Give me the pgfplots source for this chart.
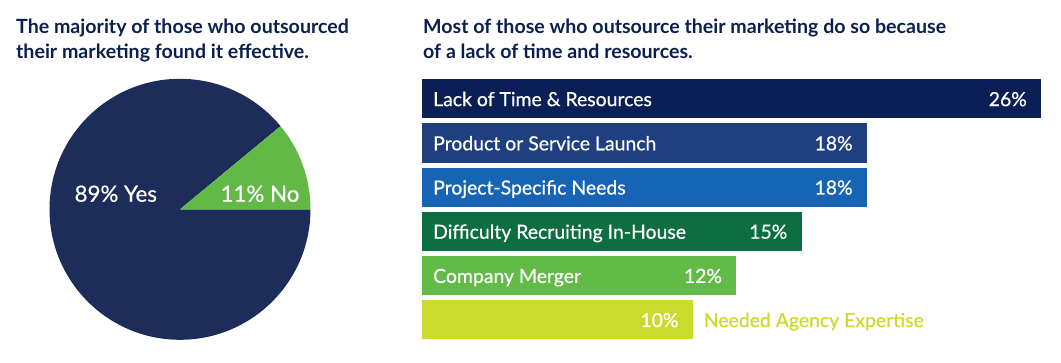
\documentclass[border=0pt]{standalone}
\usepackage{pgfplots}
\pgfplotsset{compat=1.18}
\usepackage{pgfplotstable}
\usepackage{fontspec}
\setmainfont{Lato}
\newfontface\medfont{Lato}[FakeBold=0.6]
\definecolor{navy}{HTML}{1D2D5A}
\definecolor{titlec}{HTML}{0B1F4F}
\definecolor{pgreen}{HTML}{62B946}
\definecolor{b1}{HTML}{0A1F56}
\definecolor{b2}{HTML}{1F3F7E}
\definecolor{b3}{HTML}{1565B4}
\definecolor{b4}{HTML}{0D6E42}
\definecolor{b5}{HTML}{62BB47}
\definecolor{b6}{HTML}{CADC2B}
\newcommand\titlefont{\fontsize{19.6}{23}\selectfont\bfseries}
\newcommand\barfont{\medfont\fontsize{19.4}{22}\selectfont}
\newcommand\piefont{\medfont\fontsize{22.3}{26}\selectfont}

% pos: 5 = top bar
\pgfplotstableread{
pos pct
5 26
4 18
3 18
2 15
1 12
0 10
}\reasons

\pgfplotstableread{
label pct
Yes 89
No 11
}\effective

\begin{document}
\begin{tikzpicture}
\path (0pt,0pt) rectangle (1061pt,363pt);
% titles
\node[anchor=base west, inner sep=0, font=\titlefont, text=titlec] at (16pt,329.2pt) {The majority of those who outsourced};
\node[anchor=base west, inner sep=0, font=\titlefont, text=titlec] at (16pt,304.7pt) {their marketing found it effective.};
\node[anchor=base west, inner sep=0, font=\titlefont, text=titlec] at (423pt,329.2pt) {Most of those who outsource their marketing do so because};
\node[anchor=base west, inner sep=0, font=\titlefont, text=titlec] at (423pt,304.7pt) {of a lack of time and resources.};

% pie
\pgfplotstablegetelem{1}{pct}\of\effective
\pgfmathsetmacro\noang{\pgfplotsretval/100*360}
\begin{axis}[at={(49.5pt,23.2pt)}, anchor=south west, width=261pt, height=261pt,
  scale only axis, xmin=-1, xmax=1, ymin=-1, ymax=1, hide axis, clip=false]
\addplot[draw=none, forget plot] coordinates {(0,0)};
\fill[navy] (axis cs:0,0) -- (axis cs:1,0) arc[start angle=0, end angle={\noang-360}, radius=130.5pt] -- cycle;
\fill[pgreen] (axis cs:0,0) -- (axis cs:1,0) arc[start angle=0, end angle=\noang, radius=130.5pt] -- cycle;
\node[anchor=base, inner sep=0, text=white, font=\piefont] at (axis cs:-0.492,0.058) {89\% Yes};
\node[anchor=base, inner sep=0, text=white, font=\piefont] at (axis cs:0.613,0.058) {11\% No};
\end{axis}

% bars
\begin{axis}[at={(422pt,21.1pt)}, anchor=south west, width=619pt, height=265.2pt,
  scale only axis, xmin=0, xmax=28.43, ymin=-0.5, ymax=5.5,
  hide axis, clip=false, xbar, bar width=39.3pt, bar shift=0pt]
\addplot[fill=b1, draw=none, restrict y to domain=4.9:5.1] table[x expr=\thisrow{pct}+2.43, y=pos]{\reasons};
\addplot[fill=b2, draw=none, restrict y to domain=3.9:4.1] table[x expr=\thisrow{pct}+2.43, y=pos]{\reasons};
\addplot[fill=b3, draw=none, restrict y to domain=2.9:3.1] table[x expr=\thisrow{pct}+2.43, y=pos]{\reasons};
\addplot[fill=b4, draw=none, restrict y to domain=1.9:2.1] table[x expr=\thisrow{pct}+2.43, y=pos]{\reasons};
\addplot[fill=b5, draw=none, restrict y to domain=0.9:1.1] table[x expr=\thisrow{pct}+2.43, y=pos]{\reasons};
\addplot[fill=b6, draw=none, restrict y to domain=-0.1:0.1] table[x expr=\thisrow{pct}+2.43, y=pos]{\reasons};
\begin{scope}[every node/.style={inner sep=0, font=\barfont, text=white}]
\node[anchor=base west, xshift=11pt, yshift=-7.3pt] at (axis cs:0,5) {Lack of Time \& Resources};
\node[anchor=base west, xshift=11pt, yshift=-7.3pt] at (axis cs:0,4) {Product or Service Launch};
\node[anchor=base west, xshift=11pt, yshift=-7.3pt] at (axis cs:0,3) {Project-Specific Needs};
\node[anchor=base west, xshift=11pt, yshift=-7.3pt] at (axis cs:0,2) {Difficulty Recruiting In-House};
\node[anchor=base west, xshift=11pt, yshift=-7.3pt] at (axis cs:0,1) {Company Merger};
\node[anchor=base west, xshift=11pt, yshift=-7.3pt, text=b6] at (axis cs:12.43,0) {Needed Agency Expertise};
\node[anchor=base east, xshift=-14pt, yshift=-7.3pt] at (axis cs:28.43,5) {26\%};
\node[anchor=base east, xshift=-14pt, yshift=-7.3pt] at (axis cs:20.43,4) {18\%};
\node[anchor=base east, xshift=-14pt, yshift=-7.3pt] at (axis cs:20.43,3) {18\%};
\node[anchor=base east, xshift=-14pt, yshift=-7.3pt] at (axis cs:17.43,2) {15\%};
\node[anchor=base east, xshift=-14pt, yshift=-7.3pt] at (axis cs:14.43,1) {12\%};
\node[anchor=base east, xshift=-14pt, yshift=-7.3pt] at (axis cs:12.43,0) {10\%};
\end{scope}
\end{axis}
\end{tikzpicture}
\end{document}
